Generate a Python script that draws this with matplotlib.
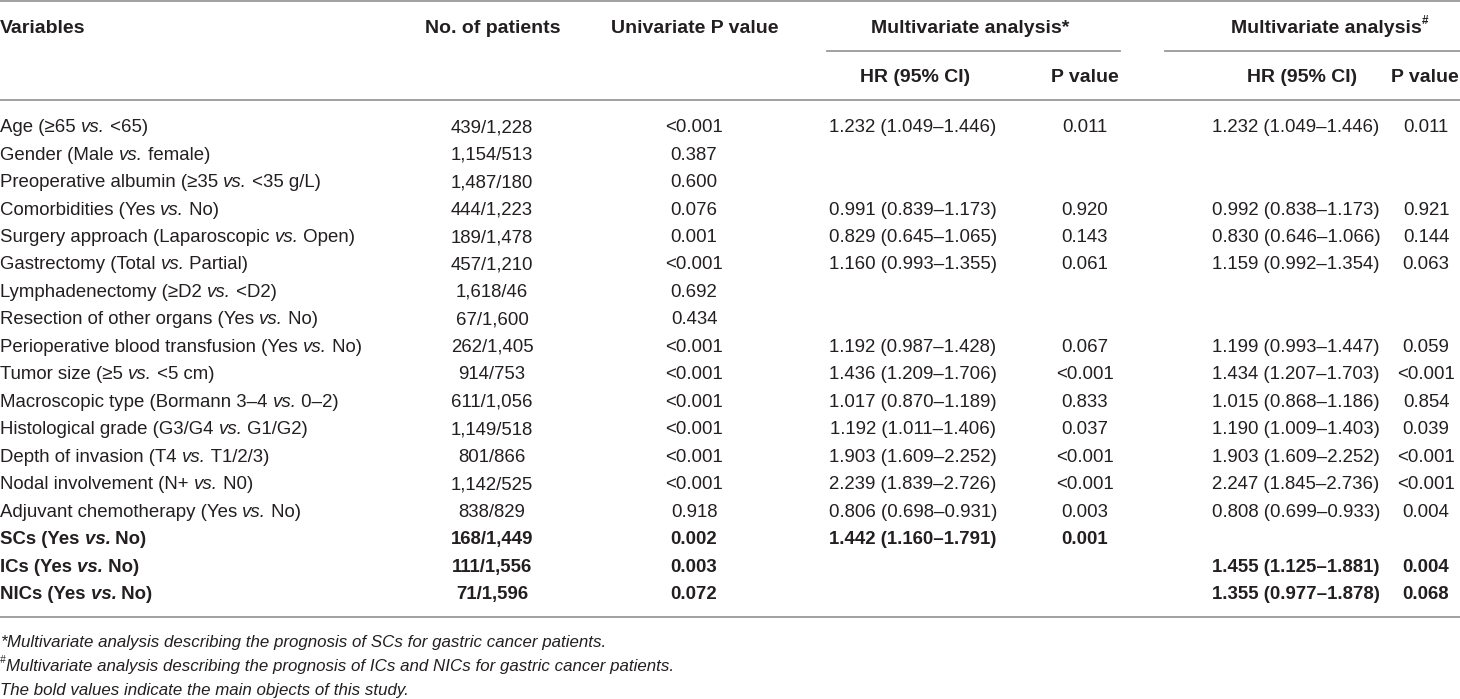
import matplotlib
matplotlib.use("Agg")
import matplotlib.pyplot as plt

plt.rcParams['font.family'] = ['Liberation Sans', 'DejaVu Sans']

# table content
variables = [
    ("Age (\u226565 ", "vs.", " <65)"),
    ("Gender (Male ", "vs.", " female)"),
    ("Preoperative albumin (\u226535 ", "vs.", " <35 g/L)"),
    ("Comorbidities (Yes ", "vs.", " No)"),
    ("Surgery approach (Laparoscopic ", "vs.", " Open)"),
    ("Gastrectomy (Total ", "vs.", " Partial)"),
    ("Lymphadenectomy (\u2265D2 ", "vs.", " <D2)"),
    ("Resection of other organs (Yes ", "vs.", " No)"),
    ("Perioperative blood transfusion (Yes ", "vs.", " No)"),
    ("Tumor size (\u22655 ", "vs.", " <5 cm)"),
    ("Macroscopic type (Bormann 3\u20134 ", "vs.", " 0\u20132)"),
    ("Histological grade (G3/G4 ", "vs.", " G1/G2)"),
    ("Depth of invasion (T4 ", "vs.", " T1/2/3)"),
    ("Nodal involvement (N+ ", "vs.", " N0)"),
    ("Adjuvant chemotherapy (Yes ", "vs.", " No)"),
    ("SCs (Yes ", "vs.", " No)"),
    ("ICs (Yes ", "vs.", " No)"),
    ("NICs (Yes ", "vs.", " No)"),
]
n_patients = ["439/1,228", "1,154/513", "1,487/180", "444/1,223", "189/1,478",
              "457/1,210", "1,618/46", "67/1,600", "262/1,405", "914/753",
              "611/1,056", "1,149/518", "801/866", "1,142/525", "838/829",
              "168/1,449", "111/1,556", "71/1,596"]
uni_p = ["<0.001", "0.387", "0.600", "0.076", "0.001", "<0.001", "0.692", "0.434",
         "<0.001", "<0.001", "<0.001", "<0.001", "<0.001", "<0.001", "0.918",
         "0.002", "0.003", "0.072"]
hr_sc = ["1.232 (1.049\u20131.446)", "", "", "0.991 (0.839\u20131.173)",
         "0.829 (0.645\u20131.065)", "1.160 (0.993\u20131.355)", "", "",
         "1.192 (0.987\u20131.428)", "1.436 (1.209\u20131.706)",
         "1.017 (0.870\u20131.189)", "1.192 (1.011\u20131.406)",
         "1.903 (1.609\u20132.252)", "2.239 (1.839\u20132.726)",
         "0.806 (0.698\u20130.931)", "1.442 (1.160\u20131.791)", "", ""]
p_sc = ["0.011", "", "", "0.920", "0.143", "0.061", "", "", "0.067", "<0.001",
        "0.833", "0.037", "<0.001", "<0.001", "0.003", "0.001", "", ""]
hr_ic = ["1.232 (1.049\u20131.446)", "", "", "0.992 (0.838\u20131.173)",
         "0.830 (0.646\u20131.066)", "1.159 (0.992\u20131.354)", "", "",
         "1.199 (0.993\u20131.447)", "1.434 (1.207\u20131.703)",
         "1.015 (0.868\u20131.186)", "1.190 (1.009\u20131.403)",
         "1.903 (1.609\u20132.252)", "2.247 (1.845\u20132.736)",
         "0.808 (0.699\u20130.933)", "", "1.455 (1.125\u20131.881)",
         "1.355 (0.977\u20131.878)"]
p_ic = ["0.011", "", "", "0.921", "0.144", "0.063", "", "", "0.059", "<0.001",
        "0.854", "0.039", "<0.001", "<0.001", "0.004", "", "0.004", "0.068"]
bold_rows = [15, 16, 17]

footnotes = [
    ("*", "Multivariate analysis describing the prognosis of SCs for gastric cancer patients."),
    ("#", "Multivariate analysis describing the prognosis of ICs and NICs for gastric cancer patients."),
    ("", "The bold values indicate the main objects of this study."),
]

W, H = 1460, 699
FS = 13.4      # body
FSH = 14.0     # bold header
FSN = 12.2     # footnotes
TXT = '#231f20'
LINE = '#9a9a9a'

fig = plt.figure(figsize=(W / 100, H / 100), dpi=100)
ax = fig.add_axes([0, 0, 1, 1])
ax.set_xlim(0, W)
ax.set_ylim(H, 0)
ax.axis('off')
renderer = fig.canvas.get_renderer()


def base(y, size):
    # baseline that puts the cap height centred on y
    return y + 0.33 * size * 100 / 72


def run(x, y, pieces, size=FS):
    # draw text pieces one after another, each with its own style
    for s, kw in pieces:
        t = ax.text(x, base(y, size), s, fontsize=size, color=TXT, va='baseline',
                    ha='left', **kw)
        bb = t.get_window_extent(renderer=renderer)
        x += bb.width  # 1 px per data unit
    return x


def width_of(s, size=FS, **kw):
    t = ax.text(0, 0, s, fontsize=size, **kw)
    w = t.get_window_extent(renderer=renderer).width
    t.remove()
    return w


# rules
ax.plot([0, W], [1, 1], color=LINE, lw=1.3)
ax.plot([0, W], [100, 100], color=LINE, lw=1.3)
ax.plot([827, 1120], [51, 51], color=LINE, lw=1.3)
ax.plot([1165, W], [51, 51], color=LINE, lw=1.3)
ax.plot([0, W], [617, 617], color=LINE, lw=1.3)

# header
hdr = dict(fontsize=FSH, color=TXT, va='baseline', fontweight='bold')
ax.text(0, base(27, FSH), "Variables", ha='left', **hdr)
ax.text(493, base(27, FSH), "No. of patients", ha='center', **hdr)
ax.text(695, base(27, FSH), "Univariate P value", ha='center', **hdr)
ax.text(970, base(27, FSH), "Multivariate analysis*", ha='center', **hdr)
w2 = width_of("Multivariate analysis", FSH, fontweight='bold') + width_of("#", FSH * 0.6, fontweight='bold')
x0 = run(1330 - w2 / 2, 27, [("Multivariate analysis", dict(fontweight='bold'))], FSH)
ax.text(x0, 21, "#", fontsize=FSH * 0.6, color=TXT, va='center', ha='left', fontweight='bold')
ax.text(915, base(76, FSH), "HR (95% CI)", ha='center', **hdr)
ax.text(1085, base(76, FSH), "P value", ha='center', **hdr)
ax.text(1302, base(76, FSH), "HR (95% CI)", ha='center', **hdr)
ax.text(1425, base(76, FSH), "P value", ha='center', **hdr)

# body
col_x = [492, 694, 913, 1085, 1296, 1426]
for i, (pre, vs, post) in enumerate(variables):
    y = 126 + i * 27.47
    wt = 'bold' if i in bold_rows else 'normal'
    run(0, y, [(pre, dict(fontweight=wt)),
               (vs, dict(fontweight=wt, fontstyle='italic')),
               (post, dict(fontweight=wt))])
    vals = [n_patients[i], uni_p[i], hr_sc[i], p_sc[i], hr_ic[i], p_ic[i]]
    for cx, v in zip(col_x, vals):
        if v:
            ax.text(cx, base(y, FS), v, fontsize=FS, color=TXT, va='baseline',
                    ha='center', fontweight=wt)

# footnotes
for k, (mark, note) in enumerate(footnotes):
    y = 641 + k * 24
    x = 0
    if mark == "*":
        x = run(x, y, [("*", dict(fontstyle='italic'))], FSN)
    elif mark == "#":
        t = ax.text(0, y - 5, "#", fontsize=FSN * 0.6, color=TXT, va='center', ha='left',
                    fontstyle='italic')
        x = t.get_window_extent(renderer=renderer).width
    run(x, y, [(note, dict(fontstyle='italic'))], FSN)

fig.savefig("out.png", dpi=100)
